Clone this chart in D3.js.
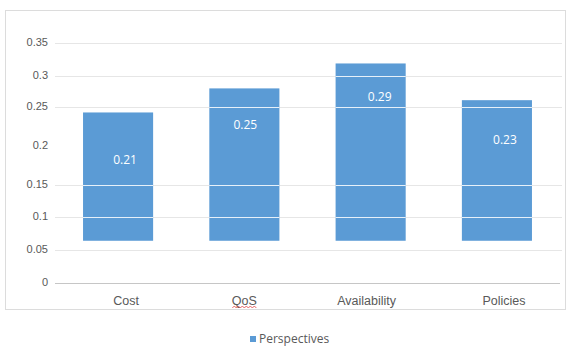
<!DOCTYPE html>
<html lang="en">
<head>
<meta charset="utf-8">
<title>Perspectives</title>
<script src="https://d3js.org/d3.v7.min.js"></script>
<style>
  body { margin: 0; background: #fff; }
  svg { font-family: 'Open Sans', sans-serif; }
  .tick text { fill: #595959; font-size: 11px; }
  .cat .tick text { font-size: 12.5px; }
  .legend text { fill: #595959; font-size: 12px; }
  .barlabel { fill: #fff; font-size: 12px; }
</style>
</head>
<body>
<div id="chart"></div>
<script>
// data
var categories = ["Cost", "QoS", "Availability", "Policies"];
var barLow = [0.064, 0.064, 0.064, 0.064];
var barHigh = [0.243, 0.280, 0.319, 0.261];
var barLabels = ["0.21", "0.25", "0.29", "0.23"];
var yTicks = [0, 0.05, 0.1, 0.15, 0.2, 0.25, 0.3, 0.35];
var gridTicks = [0, 0.05, 0.1, 0.15, 0.25, 0.3, 0.35];
var seriesName = "Perspectives";

var W = 573, H = 347;
var svg = d3.select("#chart").append("svg")
    .attr("width", W).attr("height", H);

// outer chart frame
svg.append("rect")
    .attr("x", 5.5).attr("y", 10.5)
    .attr("width", 560).attr("height", 299)
    .attr("fill", "none").attr("stroke", "#dcdcdc");

// the original axis is not evenly spaced, so a piecewise scale follows it
var y = d3.scaleLinear()
    .domain([0, 0.05, 0.1, 0.15, 0.25, 0.3, 0.35])
    .range([283, 250, 217, 185, 107, 76, 43]);

var x = d3.scaleBand()
    .domain(categories)
    .range([55, 560])
    .paddingInner(0.445)
    .paddingOuter(0.222);

// gridlines
svg.append("g").selectAll("line")
  .data(gridTicks.filter(function(d) { return d > 0; }))
  .join("line")
    .attr("x1", 55).attr("x2", 562)
    .attr("y1", function(d) { return Math.round(y(d)) + 0.5; })
    .attr("y2", function(d) { return Math.round(y(d)) + 0.5; })
    .attr("stroke", "#e6e6e6");

// y axis labels
var yAxis = svg.append("g")
    .attr("transform", "translate(48,0)")
    .call(d3.axisLeft(y).tickValues(yTicks).tickSize(0).tickPadding(0)
      .tickFormat(function(d) { return d === 0 ? "0" : String(d); }));
yAxis.select(".domain").remove();
yAxis.selectAll("text").attr("dy", "0.2em");

// bars
var idx = d3.range(categories.length);
svg.append("g").selectAll("rect")
  .data(idx)
  .join("rect")
    .attr("x", function(i) { return x(categories[i]); })
    .attr("width", x.bandwidth())
    .attr("y", function(i) { return y(barHigh[i]); })
    .attr("height", function(i) { return y(barLow[i]) - y(barHigh[i]); })
    .attr("fill", "#5b9bd5");

// white gridlines running through the bars
svg.append("g").selectAll("g")
  .data(idx)
  .join("g")
  .each(function(i) {
    d3.select(this).selectAll("line")
      .data(gridTicks.filter(function(t) { return t > barLow[i] && t < barHigh[i]; }))
      .join("line")
        .attr("x1", x(categories[i])).attr("x2", x(categories[i]) + x.bandwidth())
        .attr("y1", function(t) { return Math.round(y(t)) + 0.5; })
        .attr("y2", function(t) { return Math.round(y(t)) + 0.5; })
        .attr("stroke", "#ffffff").attr("stroke-opacity", 0.85);
  });

// value labels (not centred on the bars in the original)
var labelDx = [7, 1, 9, 8];
var labelDy = [47, 36, 33, 40];
svg.append("g").selectAll("text")
  .data(idx)
  .join("text")
    .attr("class", "barlabel")
    .attr("text-anchor", "middle")
    .attr("x", function(i) { return x(categories[i]) + x.bandwidth() / 2 + labelDx[i]; })
    .attr("y", function(i) { return y(barHigh[i]) + labelDy[i]; })
    .attr("dy", "0.35em")
    .text(function(i) { return barLabels[i]; });

// x axis
var catDx = [8, 0, -4, 7];
var xAxis = svg.append("g")
    .attr("class", "cat")
    .attr("transform", "translate(0," + (y(0) + 0.5) + ")")
    .call(d3.axisBottom(x).tickSize(0).tickPadding(13));
xAxis.select(".domain").attr("stroke", "#c6c6c6").attr("d", "M55,0H560");
xAxis.selectAll("text").attr("dy", "0.35em").attr("y", 17)
    .attr("x", function(d, i) { return catDx[i]; });

// red spell-check squiggle under QoS
var qx = x("QoS") + x.bandwidth() / 2 + catDx[1];
var sq = d3.range(0, 13).map(function(k) { return [qx - 12 + k * 2, 307 + (k % 2 ? -1 : 1)]; });
svg.append("path")
    .attr("d", d3.line()(sq))
    .attr("fill", "none").attr("stroke", "#e04040").attr("stroke-width", 0.8);

// legend
var lg = svg.append("g").attr("class", "legend").attr("transform", "translate(250,339)");
lg.append("rect").attr("x", 0).attr("y", -3).attr("width", 6).attr("height", 6).attr("fill", "#5b9bd5");
lg.append("text").attr("x", 9).attr("dy", "0.35em").text(seriesName);
</script>
</body>
</html>
